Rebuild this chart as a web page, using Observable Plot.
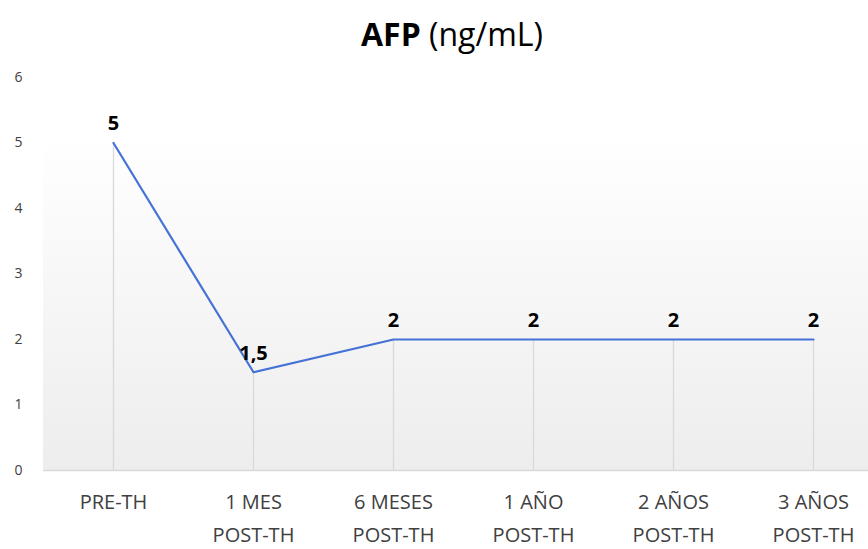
<!DOCTYPE html>
<html>
<head>
<meta charset="utf-8">
<script src="https://cdn.jsdelivr.net/npm/d3@7"></script>
<script src="https://cdn.jsdelivr.net/npm/@observablehq/plot@0.6"></script>
<style>
  html, body { margin: 0; padding: 0; background: #fff; }
  #wrap { width: 868px; height: 549px; overflow: hidden; font-family: "Open Sans", sans-serif; }
  #title { height: 60px; line-height: 68px; text-align: center; font-size: 32px; color: #000; padding-left: 36px; box-sizing: border-box; }
  #title b { font-weight: 700; }
</style>
</head>
<body>
<div id="wrap">
  <div id="title"><b>AFP</b> (ng/mL)</div>
  <div id="chart"></div>
</div>
<script>
// AFP follow-up after transplant
const categories = ["PRE-TH", "1 MES\nPOST-TH", "6 MESES\nPOST-TH", "1 AÑO\nPOST-TH", "2 AÑOS\nPOST-TH", "3 AÑOS\nPOST-TH"];
const afp = [5, 1.5, 2, 2, 2, 2];
const afpLabels = ["5", "1,5", "2", "2", "2", "2"];
const yTicks = [0, 1, 2, 3, 4, 5, 6];

const data = categories.map((c, i) => ({cat: c, value: afp[i], label: afpLabels[i]}));

// plot-area background: vertical gradient from white to light gray
const background = (index, scales, values, dim) => {
  const g = d3.create("svg:g");
  const grad = g.append("defs").append("linearGradient")
    .attr("id", "bg-grad").attr("x1", 0).attr("y1", 0).attr("x2", 0).attr("y2", 1);
  grad.append("stop").attr("offset", "0%").attr("stop-color", "#ffffff");
  grad.append("stop").attr("offset", "15%").attr("stop-color", "#ffffff");
  grad.append("stop").attr("offset", "100%").attr("stop-color", "#ededed");
  g.append("rect")
    .attr("x", dim.marginLeft)
    .attr("y", dim.marginTop)
    .attr("width", dim.width - dim.marginLeft - dim.marginRight)
    .attr("height", dim.height - dim.marginTop - dim.marginBottom)
    .attr("fill", "url(#bg-grad)");
  return g.node();
};

const chart = Plot.plot({
  width: 868,
  height: 489,
  marginTop: 17,
  marginBottom: 79,
  marginLeft: 43,
  marginRight: -15,
  style: {fontFamily: "Open Sans, sans-serif", background: "transparent", overflow: "visible"},
  x: {type: "point", domain: categories, padding: 0.5, label: null},
  y: {domain: [0, 6], label: null},
  marks: [
    background,
    Plot.ruleX(data, {x: "cat", y1: 0, y2: "value", stroke: "#d9d9d9", strokeWidth: 1.3}),
    Plot.ruleY([0], {stroke: "#d9d9d9", strokeWidth: 1.5}),
    Plot.line(data, {x: "cat", y: "value", stroke: "#4472d6", strokeWidth: 2.2}),
    Plot.text(data, {x: "cat", y: "value", text: "label", dy: -19, fontSize: 20, fontWeight: "bold", fill: "#000"}),
    Plot.axisY({ticks: yTicks, tickFormat: "d", tickSize: 0, tickPadding: 0, frameAnchor: "left", dx: -29, textAnchor: "start", fontSize: 14, fill: "#404040", label: null}),
    Plot.axisX({tickSize: 0, tickPadding: 15, fontSize: 20, lineHeight: 1.66, fill: "#404040", label: null})
  ]
});
document.getElementById("chart").appendChild(chart);
</script>
</body>
</html>
